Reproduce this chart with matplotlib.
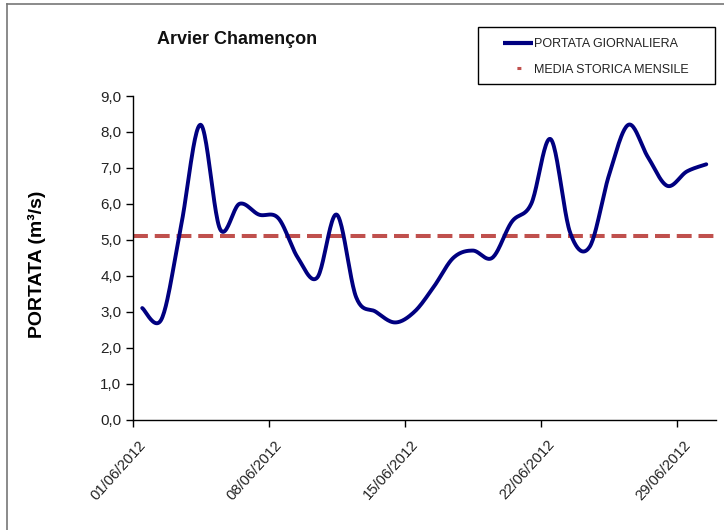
import numpy as np
import pandas as pd
import matplotlib
matplotlib.use("Agg")
import matplotlib.pyplot as plt
import matplotlib.dates as mdates
import matplotlib.transforms as mtransforms
from matplotlib.lines import Line2D
from matplotlib.patches import Rectangle

# ---- data ----
start_date = "2012-06-01"
n_days = 30
portata = [3.1, 2.8, 5.4, 8.2, 5.3, 6.0, 5.7, 5.6, 4.5, 3.95,
           5.7, 3.4, 3.0, 2.7, 3.0, 3.7, 4.5, 4.7, 4.5, 5.5,
           6.0, 7.8, 5.2, 4.8, 6.8, 8.2, 7.3, 6.5, 6.9, 7.1]
media_storica = 5.1
tick_dates = ["2012-06-01", "2012-06-08", "2012-06-15", "2012-06-22", "2012-06-29"]
yticks = [0, 1, 2, 3, 4, 5, 6, 7, 8, 9]
title = "Arvier Chamençon"
ylabel = "PORTATA (m\u00b3/s)"
legend_labels = ["PORTATA GIORNALIERA", "MEDIA STORICA MENSILE"]

NAVY = "#000080"
RED = "#C0504D"
FONT = "Liberation Sans"
plt.rcParams["font.family"] = [FONT, "DejaVu Sans"]

W, H = 724, 530
fig = plt.figure(figsize=(W / 100, H / 100), dpi=100)
fig.patch.set_facecolor("white")

def fx(px):
    return px / W

def fy(py):
    return 1 - py / H

ax = fig.add_axes([fx(132.5), fy(419.5), fx(716) - fx(132.5), fy(96) - fy(419.5)])

dates = pd.date_range(start_date, periods=n_days, freq="D")
x = mdates.date2num(dates.to_pydatetime()) + 0.5  # points centred in each day slot
y = np.asarray(portata, dtype=float)

# smoothed line (Catmull-Rom style, like spreadsheet "smoothed line")
P = np.column_stack([x, y])
Pext = np.vstack([P[0], P, P[-1]])
t = np.linspace(0, 1, 25)[:, None]
segs = []
for i in range(1, len(Pext) - 2):
    p0, p1, p2, p3 = Pext[i - 1], Pext[i], Pext[i + 1], Pext[i + 2]
    b1 = p1 + (p2 - p0) / 6
    b2 = p2 - (p3 - p1) / 6
    seg = ((1 - t) ** 3) * p1 + 3 * ((1 - t) ** 2) * t * b1 + 3 * (1 - t) * t ** 2 * b2 + t ** 3 * p2
    segs.append(seg if i == 1 else seg[1:])
curve = np.vstack(segs)

ax.plot(curve[:, 0], curve[:, 1], color=NAVY, lw=2.8, solid_capstyle="round",
        solid_joinstyle="round", zorder=3)
ax.axhline(media_storica, color=RED, lw=2.9, linestyle=(0, (3.7, 1.7)), zorder=2)

x0 = mdates.date2num(pd.Timestamp(start_date).to_pydatetime())
ax.set_xlim(x0, x0 + n_days)
ax.set_ylim(0, 9)

tick_nums = [mdates.date2num(pd.Timestamp(d).to_pydatetime()) for d in tick_dates]
ax.set_xticks(tick_nums)
ax.set_xticklabels([pd.Timestamp(d).strftime("%d/%m/%Y") for d in tick_dates])
ax.set_yticks(yticks)
ax.set_yticklabels([f"{v:.1f}".replace(".", ",") for v in yticks])

for s in ["top", "right"]:
    ax.spines[s].set_visible(False)
for s in ["left", "bottom"]:
    ax.spines[s].set_linewidth(1.0)
    ax.spines[s].set_color("black")

ax.tick_params(axis="y", direction="out", length=5, width=1, pad=3, labelsize=11, labelcolor="#222222")
ax.tick_params(axis="x", direction="out", length=5, width=1, pad=0, labelsize=10.7, labelcolor="#222222")

offset = mtransforms.ScaledTranslation(11 / 100, -16 / 100, fig.dpi_scale_trans)
for lab in ax.get_xticklabels():
    lab.set_rotation(48)
    lab.set_ha("right")
    lab.set_va("center")
    lab.set_rotation_mode("anchor")
    lab.set_transform(lab.get_transform() + offset)

fig.text(fx(37), fy(264), ylabel, rotation=90, ha="center", va="center",
         fontsize=14, fontweight="bold", color="black")
fig.text(fx(157), fy(39), title, ha="left", va="center", fontsize=13,
         fontweight="bold", color="#111111")

# legend
h1 = Line2D([], [], color=NAVY, lw=3.0, solid_capstyle="butt")
h2 = Line2D([], [], color=RED, lw=2.2, linestyle=(26.75, (1.3, 30)))
leg = fig.legend([h1, h2], legend_labels, loc="center left",
                 bbox_to_anchor=(fx(503), fy(57)), bbox_transform=fig.transFigure,
                 frameon=False, fontsize=9, handlelength=2.4, handletextpad=0.05,
                 labelspacing=1.05, borderpad=0, borderaxespad=0)
for txt in leg.get_texts():
    txt.set_color("#222222")
fig.patches.append(Rectangle((fx(478), fy(84)), fx(715) - fx(478), fy(27) - fy(84),
                             transform=fig.transFigure, fill=False, edgecolor="black",
                             lw=1.0))

# outer frame (top and left edges visible in the reference)
fig.add_artist(Line2D([fx(7), fx(724)], [fy(4), fy(4)], transform=fig.transFigure,
                      color="#777777", lw=1.2))
fig.add_artist(Line2D([fx(7), fx(7)], [fy(4), fy(530)], transform=fig.transFigure,
                      color="#777777", lw=1.2))

fig.savefig("out.png", dpi=100, facecolor="white")
